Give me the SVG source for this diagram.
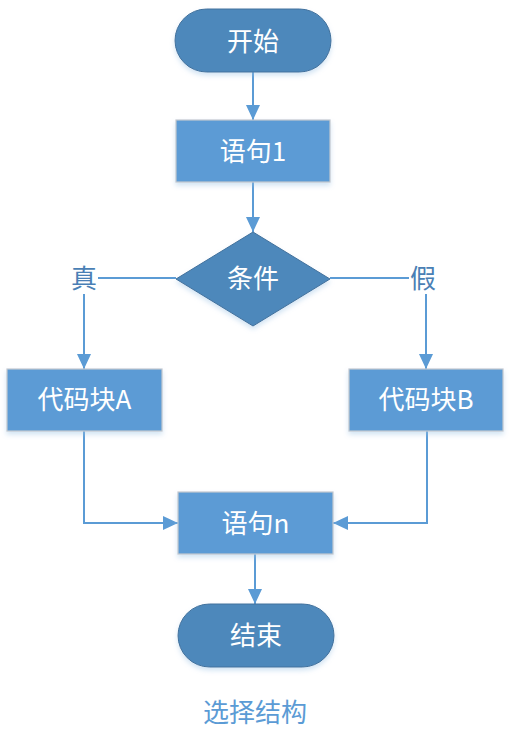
<svg xmlns="http://www.w3.org/2000/svg" width="517" height="735" viewBox="0 0 517 735">
<style>
.term{fill:#4e88bb;stroke:#41719c;stroke-width:1}
.proc{fill:#5b9bd5;stroke:#c3c8cf;stroke-width:1.2}
.dec{fill:#4e88bb;stroke:#41719c;stroke-width:1}
.t{font-family:"Noto Sans CJK SC","Noto Sans",sans-serif;font-size:26px;fill:#ffffff;text-anchor:middle;dominant-baseline:central}
.lbl{font-family:"Noto Sans CJK SC","Noto Sans",sans-serif;font-size:26px;fill:#4a7fb5;text-anchor:middle;dominant-baseline:central}
.cap{font-family:"Noto Sans CJK SC","Noto Sans",sans-serif;font-size:26px;fill:#5b9bd5;text-anchor:middle;dominant-baseline:central}
.c{fill:none;stroke:#5b9bd5;stroke-width:2}
.sh{filter:url(#shadow)}
</style>
<defs>
<marker id="arrow" viewBox="0 0 15 14" refX="15" refY="7" markerWidth="15" markerHeight="14" markerUnits="userSpaceOnUse" orient="auto">
<path d="M0,0 L15,7 L0,14 z" fill="#5b9bd5"/>
</marker>
<filter id="shadow" x="-10%" y="-10%" width="120%" height="130%">
<feGaussianBlur in="SourceAlpha" stdDeviation="2.5"/>
<feOffset dy="3" result="b"/>
<feFlood flood-color="#9cc3e6" flood-opacity="0.45"/>
<feComposite in2="b" operator="in"/>
<feMerge><feMergeNode/><feMergeNode in="SourceGraphic"/></feMerge>
</filter>
</defs>
<g id="connectors">
<line class="c" x1="253" y1="72" x2="253" y2="120" marker-end="url(#arrow)"/>
<line class="c" x1="253" y1="182" x2="253" y2="232" marker-end="url(#arrow)"/>
<line class="c" x1="176" y1="278" x2="98" y2="278"/>
<line class="c" x1="84" y1="294" x2="84" y2="369" marker-end="url(#arrow)"/>
<line class="c" x1="330" y1="278" x2="409" y2="278"/>
<line class="c" x1="426" y1="294" x2="426" y2="369" marker-end="url(#arrow)"/>
<polyline class="c" points="84,431 84,523 178,523" marker-end="url(#arrow)"/>
<polyline class="c" points="427,431 427,523 333,523" marker-end="url(#arrow)"/>
<line class="c" x1="255" y1="554" x2="255" y2="604" marker-end="url(#arrow)"/>
</g>
<g id="start">
<rect class="term sh" x="175" y="9" width="156" height="63" rx="31.5"/>
<text class="t" x="253" y="39">开始</text>
</g>
<g id="stmt1">
<rect class="proc sh" x="176" y="120" width="154" height="62"/>
<text class="t" x="253" y="149">语句1</text>
</g>
<g id="cond">
<polygon class="dec sh" points="253,232 330,279 253,326 176,279"/>
<text class="t" x="253" y="276">条件</text>
</g>
<g id="label-true">
<text class="lbl" x="84" y="276">真</text>
</g>
<g id="label-false">
<text class="lbl" x="423" y="276">假</text>
</g>
<g id="blockA">
<rect class="proc sh" x="7" y="369" width="155" height="62"/>
<text class="t" x="84.5" y="397">代码块A</text>
</g>
<g id="blockB">
<rect class="proc sh" x="349" y="369" width="154" height="62"/>
<text class="t" x="426" y="397">代码块B</text>
</g>
<g id="stmtn">
<rect class="proc sh" x="178" y="492" width="155" height="62"/>
<text class="t" x="255.5" y="521">语句n</text>
</g>
<g id="end">
<rect class="term sh" x="178" y="604" width="156" height="63" rx="31.5"/>
<text class="t" x="256" y="633">结束</text>
</g>
<g id="caption">
<text class="cap" x="255" y="710">选择结构</text>
</g>
</svg>
